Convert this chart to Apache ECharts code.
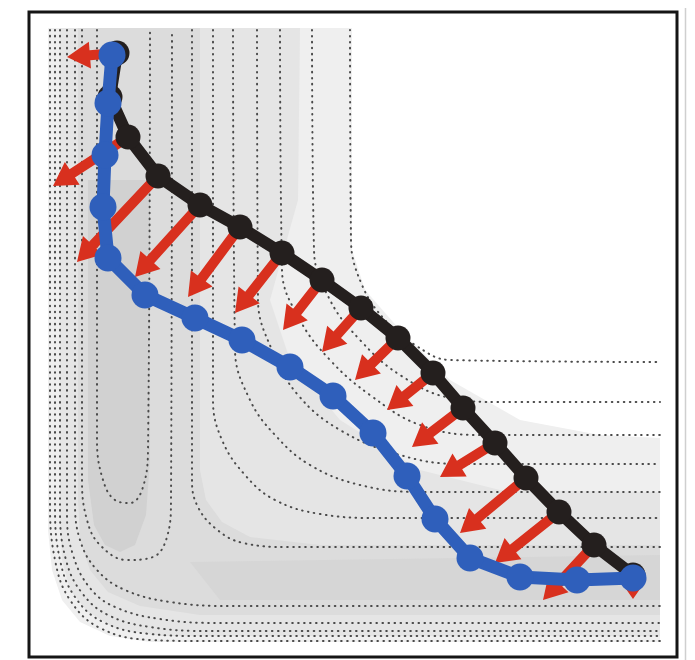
<!DOCTYPE html>
<html>
<head>
<meta charset="utf-8">
<script src="https://cdn.jsdelivr.net/npm/echarts/dist/echarts.min.js"></script>
<style>
  html, body { margin: 0; padding: 0; background: #ffffff; }
  #chart { width: 695px; height: 660px; }
</style>
</head>
<body>
<div id="chart"></div>
<script>
// Initial band of images (straight guess) and converged path, x / y in plot units
const initialX = [88, 81, 99, 129, 171, 211, 253, 293, 332, 369, 404, 434, 466, 497, 530, 565, 604];
const initialY = [41, 85, 125, 164, 193, 215, 241, 268, 296, 326, 361, 396, 431, 466, 500, 533, 563];
const finalX   = [83, 79, 76, 74, 79, 116, 166, 213, 261, 304, 344, 378, 406, 441, 491, 548, 604];
const finalY   = [43, 91, 143, 195, 246, 283, 306, 328, 355, 384, 421, 464, 507, 546, 565, 568, 566];

// Force acting on each initial image
const forceX = [-50, 0, -75, -81, -65, -52, -47, -39, -39, -43, -46, -51, -55, -66, -64, -51, 0];
const forceY = [4, 0, 49, 86, 72, 70, 60, 50, 44, 42, 37, 39, 34, 55, 51, 55, 24];

// Iso-energy contours of the surface
const contourOuter1 = [[21,18],[21,488],[26,548],[41,588],[71,616],[121,628],[171,629],[631,629]];
const contourOuter2 = [[26,18],[26,493],[31,548],[46,585],[74,610],[121,622],[171,624],[631,624]];
const contourOuter3 = [[31,18],[31,498],[37,548],[53,581],[79,603],[121,615],[181,619],[631,619]];
const contourOuter4 = [[38,18],[38,503],[44,543],[61,576],[86,595],[131,607],[191,611],[631,611]];
const contourOuter5 = [[46,18],[46,488],[51,528],[68,558],[96,578],[141,590],[201,594],[631,594]];
const contourBasinA = [[53,18],[53,468],[58,508],[71,533],[98,548],[124,545],[138,525],[142,488],[143,18]];
const contourBasinB = [[68,18],[68,428],[74,468],[86,488],[101,491],[113,478],[119,438],[121,18]];
const contourInner1 = [[163,18],[163,468],[168,493],[186,516],[214,531],[261,535],[631,535]];
const contourInner2 = [[184,18],[184,388],[193,428],[216,463],[246,488],[291,502],[351,506],[631,506]];
const contourInner3 = [[204,18],[206,338],[221,388],[246,423],[281,453],[331,473],[391,480],[631,480]];
const contourInner4 = [[228,18],[229,288],[243,338],[269,383],[311,418],[371,443],[431,452],[631,452]];
const contourInner5 = [[251,18],[253,258],[271,308],[301,348],[341,383],[391,413],[451,423],[631,423]];
const contourInner6 = [[283,18],[285,238],[301,288],[331,328],[371,363],[421,386],[471,390],[631,390]];
const contourInner7 = [[321,18],[322,228],[333,273],[356,308],[386,333],[421,348],[631,350]];

const contours = [
  contourOuter1, contourOuter2, contourOuter3, contourOuter4, contourOuter5,
  contourBasinA, contourBasinB,
  contourInner1, contourInner2, contourInner3, contourInner4, contourInner5, contourInner6, contourInner7
];

// Energy shading bands, from high to low
const bandHigh   = [[19,16],[323,16],[323,238],[336,278],[371,318],[421,368],[491,408],[571,423],[631,426],[631,630],[121,630],[81,624],[51,610],[33,588],[23,558],[19,518]];
const bandMid    = [[31,16],[271,16],[269,188],[241,288],[261,348],[311,408],[391,458],[471,478],[631,480],[631,624],[131,624],[86,616],[59,600],[41,578],[33,548],[31,508]];
const bandLow    = [[49,16],[171,16],[171,458],[177,488],[193,510],[221,525],[291,533],[631,533],[631,603],[171,603],[111,594],[79,580],[61,558],[51,528],[49,488]];
const bandValley = [[161,550],[631,543],[631,588],[191,588]];
const bandBasin  = [[59,168],[121,168],[121,448],[117,503],[106,533],[91,540],[76,533],[65,513],[59,468]];
const bands = [bandHigh, bandMid, bandLow, bandValley, bandBasin];
const bandColors = ['#efefef', '#e5e5e5', '#dcdcdc', '#d6d6d6', '#d1d1d1'];

const pairs = (xs, ys) => xs.map((x, i) => [x, ys[i]]);
const arrowData = initialX
  .map((x, i) => [x, initialY[i], forceX[i], forceY[i]])
  .filter(d => d[2] !== 0 || d[3] !== 0);

const chart = echarts.init(document.getElementById('chart'), null, { renderer: 'canvas' });

const contourSeries = contours.map(c => ({
  type: 'line',
  data: c,
  smooth: 0.4,
  showSymbol: false,
  silent: true,
  z: 2,
  lineStyle: { color: '#4a4a4a', width: 2, type: [0.6, 5.4], cap: 'round' }
}));

chart.setOption({
  animation: false,
  backgroundColor: '#ffffff',
  grid: { left: 29, top: 12, width: 648, height: 645, show: true, borderColor: '#151515', borderWidth: 3, backgroundColor: 'transparent' },
  xAxis: { type: 'value', min: 0, max: 648, show: false },
  yAxis: { type: 'value', min: 0, max: 645, inverse: true, show: false },
  graphic: [{
    type: 'line', shape: { x1: 685.5, y1: 8, x2: 685.5, y2: 660 },
    style: { stroke: '#cfcfcf', lineWidth: 1.5 }, silent: true
  }],
  series: [
    {
      type: 'custom',
      z: 1,
      silent: true,
      data: bands.map((b, i) => [i]),
      renderItem: function (params, api) {
        const idx = params.dataIndex;
        const pts = bands[idx].map(p => api.coord(p));
        return { type: 'polygon', shape: { points: pts }, style: { fill: bandColors[idx] } };
      }
    },
    ...contourSeries,
    {
      type: 'custom',
      z: 3,
      silent: true,
      data: arrowData,
      renderItem: function (params, api) {
        const x = api.value(0), y = api.value(1), dx = api.value(2), dy = api.value(3);
        const s = api.coord([x, y]);
        const e = api.coord([x + dx, y + dy]);
        const len = Math.hypot(e[0] - s[0], e[1] - s[1]);
        const ux = (e[0] - s[0]) / len, uy = (e[1] - s[1]) / len;
        const nx = -uy, ny = ux;
        const headLen = Math.min(23, len * 0.8), hw = 5, HW = 13.5;
        const bx = e[0] - ux * headLen, by = e[1] - uy * headLen;
        const pts = [
          [s[0] + nx * hw, s[1] + ny * hw],
          [bx + nx * hw, by + ny * hw],
          [bx + nx * HW, by + ny * HW],
          [e[0], e[1]],
          [bx - nx * HW, by - ny * HW],
          [bx - nx * hw, by - ny * hw],
          [s[0] - nx * hw, s[1] - ny * hw]
        ];
        return { type: 'polygon', shape: { points: pts }, style: { fill: '#d8301e' } };
      }
    },
    {
      type: 'line',
      data: pairs(initialX, initialY),
      z: 4,
      symbol: 'circle',
      symbolSize: 25,
      itemStyle: { color: '#241f1e' },
      lineStyle: { color: '#241f1e', width: 12 }
    },
    {
      type: 'line',
      data: pairs(finalX, finalY),
      z: 5,
      symbol: 'circle',
      symbolSize: 27,
      itemStyle: { color: '#2f5fbb' },
      lineStyle: { color: '#2f5fbb', width: 13 }
    }
  ]
});
</script>
</body>
</html>
